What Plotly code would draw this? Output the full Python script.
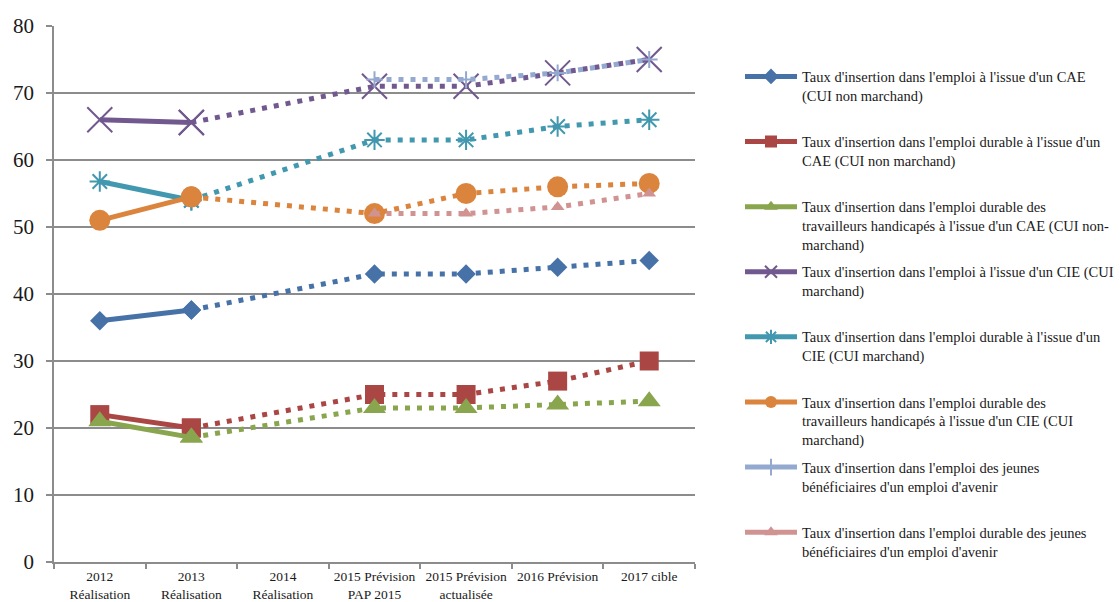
import plotly.graph_objects as go

# Catégories de l'axe horizontal
categories = [
    "2012<br>Réalisation",
    "2013<br>Réalisation",
    "2014<br>Réalisation",
    "2015 Prévision<br>PAP 2015",
    "2015 Prévision<br>actualisée",
    "2016 Prévision",
    "2017 cible",
]

# Taux d'insertion (%) — None = pas de valeur
cae_emploi = [36, 37.6, None, 43, 43, 44, 45]
cae_durable = [22, 20, None, 25, 25, 27, 30]
cae_th = [21, 18.6, None, 23, 23, 23.5, 24]
cie_emploi = [66, 65.6, None, 71, 71, 73, 75]
cie_durable = [56.8, 54, None, 63, 63, 65, 66]
cie_th = [51, 54.5, None, 52, 55, 56, 56.5]
eav_emploi = [None, None, None, 72, 72, 73, 75]
eav_durable = [None, None, None, 52, 52, 53, 55]

labels = [
    "Taux d'insertion dans l'emploi à l'issue d'un CAE<br>(CUI non marchand)",
    "Taux d'insertion dans l'emploi durable à l'issue d'un<br>CAE (CUI non marchand)",
    "Taux d'insertion dans l'emploi durable des<br>travailleurs handicapés à l'issue d'un CAE (CUI non-<br>marchand)",
    "Taux d'insertion dans l'emploi à l'issue d'un CIE (CUI<br>marchand)",
    "Taux d'insertion dans l'emploi durable à l'issue d'un<br>CIE (CUI marchand)",
    "Taux d'insertion dans l'emploi durable des<br>travailleurs handicapés à l'issue d'un CIE (CUI<br>marchand)",
    "Taux d'insertion dans l'emploi des jeunes<br>bénéficiaires d'un emploi d'avenir",
    "Taux d'insertion dans l'emploi durable des jeunes<br>bénéficiaires d'un emploi d'avenir",
]

series = [cae_emploi, cae_durable, cae_th, cie_emploi, cie_durable, cie_th, eav_emploi, eav_durable]
colors = ["#4672A8", "#AA4643", "#89A54E", "#71588F", "#4198AF", "#DB843D", "#93A9CF", "#D19392"]
symbols = ["diamond", "square", "triangle-up", "x-thin-open", "asterisk-open", "circle", "cross-thin-open", "triangle-up"]
sizes = [15, 19, 20, 25, 17, 21, 12, 12]
mlw = [0, 0, 0, 2, 2, 0, 2, 0]

FONT = "Liberation Serif"
fig = go.Figure()

# Plot area in pixels
L, R, T, B = 54, 695, 25.5, 562
W, H = 1120, 602

n_real = 2  # 2012 and 2013 are realised values
for i, (vals, lab, col, sym, sz, lw) in enumerate(zip(series, labels, colors, symbols, sizes, mlw)):
    marker = dict(symbol=sym, size=sz, color=col, line=dict(color=col, width=lw))
    legend_name = "legend" if i == 0 else f"legend{i + 1}"
    # realised part: solid line
    real = [v if k < n_real else None for k, v in enumerate(vals)]
    fig.add_trace(go.Scatter(
        x=categories, y=real, name=lab, mode="lines+markers",
        line=dict(color=col, width=5), marker=marker,
        legend=legend_name, showlegend=True, hoverinfo="skip",
    ))
    # forecast part: dotted line from last realised point
    fc = [v if k >= n_real - 1 else None for k, v in enumerate(vals)]
    fig.add_trace(go.Scatter(
        x=categories, y=fc, name=lab, mode="lines+markers",
        line=dict(color=col, width=5, dash="5px,7px"), marker=marker,
        connectgaps=True, showlegend=False, hoverinfo="skip",
    ))

# One legend box per series, stacked at a fixed pitch on the right
layout_legends = {}
for i in range(len(series)):
    key = "legend" if i == 0 else f"legend{i + 1}"
    y_px = 76 + 65.1 * i
    layout_legends[key] = dict(
        xref="container", yref="container",
        x=740 / W, xanchor="left",
        y=1 - (y_px - 15.5) / H, yanchor="top",
        font=dict(family=FONT, size=14.5, color="#1a1a1a"),
        itemsizing="constant", itemwidth=52, valign="top",
        bgcolor="rgba(0,0,0,0)", borderwidth=0,
    )

fig.update_layout(
    width=W, height=H,
    margin=dict(l=L, r=W - R, t=T, b=H - B, autoexpand=False),
    paper_bgcolor="white", plot_bgcolor="white",
    font=dict(family=FONT, color="#1a1a1a"),
    xaxis=dict(
        type="category", range=[-0.5, 6.5], tickson="boundaries",
        showgrid=False, showline=True, linecolor="#8c8c8c", linewidth=1.5,
        ticks="outside", ticklen=5, tickcolor="#8c8c8c", tickwidth=1.5,
        ticklabelstandoff=1, tickangle=0,
        tickfont=dict(family=FONT, size=13.5, color="#1a1a1a"),
    ),
    yaxis=dict(
        range=[0, 80], dtick=10, showgrid=True, gridcolor="#8c8c8c", gridwidth=1.5,
        zeroline=False, showline=True, linecolor="#8c8c8c", linewidth=1.5,
        ticks="outside", ticklen=6, tickcolor="#8c8c8c", tickwidth=1.5,
        ticklabelstandoff=8,
        tickfont=dict(family=FONT, size=21, color="#1a1a1a"),
    ),
    **layout_legends,
)

fig.write_html("out.html")
